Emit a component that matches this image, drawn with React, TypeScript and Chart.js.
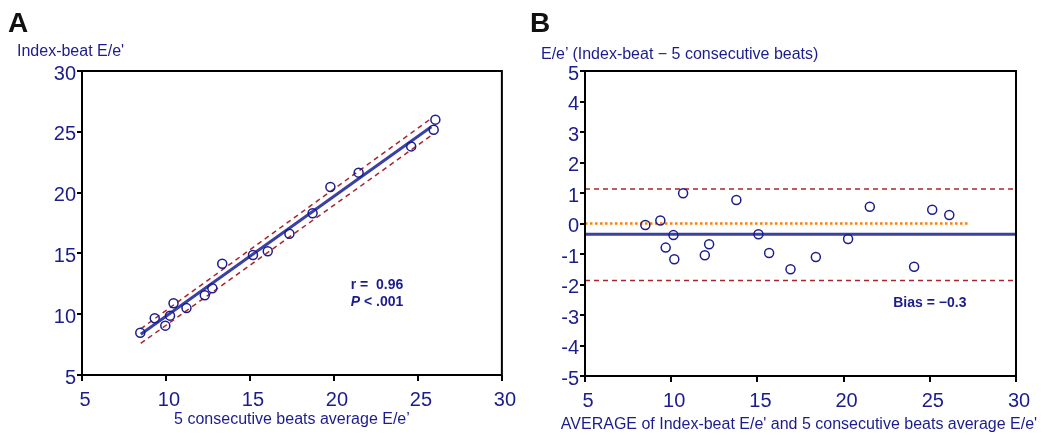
import React, { useEffect, useRef } from "react";
import { Chart, registerables } from "chart.js";

Chart.register(...registerables);

const NAVY = "#1c1c8c";
const LINE_BLUE = "#3b41a3";
const RED = "#a8262a";
const ORANGE = "#ff8000";
const FONT = "Arial, 'Liberation Sans', Helvetica, sans-serif";

// ---------- Panel A data ----------
const aX = [8.47, 9.33, 9.96, 10.24, 10.45, 11.22, 12.31, 12.76, 13.35, 15.18, 16.06, 17.35, 18.73, 19.79, 21.47, 24.6, 25.94, 26.04];
const aY = [8.48, 9.66, 9.06, 9.88, 10.9, 10.5, 11.55, 12.13, 14.15, 14.87, 15.17, 16.62, 18.3, 20.46, 21.64, 23.8, 25.17, 26.0];
const regX = [8.5, 25.8];
const regY = [8.35, 25.42];
const bandUpperY = [8.8, 26.1];
const bandLowerY = [7.6, 24.7];
const aTicks = [5, 10, 15, 20, 25, 30];

// ---------- Panel B data ----------
const bX = [8.5, 9.37, 10.13, 9.68, 10.18, 10.69, 11.95, 12.2, 13.78, 15.06, 15.68, 16.92, 18.39, 20.26, 21.52, 24.09, 25.14, 26.13];
const bY = [-0.05, 0.1, -0.38, -0.79, -1.17, 0.99, -1.04, -0.68, 0.77, -0.35, -0.97, -1.5, -1.1, -0.51, 0.55, -1.42, 0.45, 0.28];
const bLineX = [5, 30];
const biasValue = -0.35;
const upperLoa = 1.13;
const lowerLoa = -1.87;
const zeroLineX = [5, 27.2];
const bXTicks = [5, 10, 15, 20, 25, 30];
const bYTicks = [-5, -4, -3, -2, -1, 0, 1, 2, 3, 4, 5];

const pts = (xs: number[], ys: number[]) => xs.map((x, i) => ({ x, y: ys[i] }));

const boxPlugin = {
  id: "boxPlugin",
  afterDatasetsDraw(chart: any) {
    const { ctx, chartArea } = chart;
    ctx.save();
    ctx.strokeStyle = "#000";
    ctx.lineWidth = 2;
    ctx.strokeRect(chartArea.left, chartArea.top, chartArea.right - chartArea.left, chartArea.bottom - chartArea.top);
    ctx.restore();
  },
};

function makeTextPlugin(items: { x: number; y: number; parts: { t: string; italic?: boolean }[] }[]) {
  return {
    id: "textPlugin",
    afterDraw(chart: any) {
      const { ctx, scales } = chart;
      ctx.save();
      ctx.fillStyle = NAVY;
      ctx.textBaseline = "middle";
      ctx.textAlign = "left";
      for (const it of items) {
        let px = scales.x.getPixelForValue(it.x);
        const py = scales.y.getPixelForValue(it.y);
        for (const p of it.parts) {
          ctx.font = `${p.italic ? "italic " : ""}bold 14px ${FONT}`;
          ctx.fillText(p.t, px, py);
          px += ctx.measureText(p.t).width;
        }
      }
      ctx.restore();
    },
  };
}

function axis(min: number, max: number, step: number, size: number, isX: boolean, title?: string) {
  return {
    type: "linear",
    min,
    max,
    ticks: {
      stepSize: step,
      color: NAVY,
      font: { family: FONT, size: 20 },
      padding: isX ? 7 : 1,
      labelOffset: 3,
      autoSkip: false,
      maxRotation: 0,
    },
    grid: {
      drawOnChartArea: false,
      drawTicks: true,
      tickLength: isX ? 6 : 5,
      color: "#000",
      tickColor: "#000",
      tickWidth: 2,
      lineWidth: 2,
    },
    border: { display: false },
    title: title
      ? {
          display: true,
          text: title,
          color: NAVY,
          font: { family: FONT, size: 16 },
          padding: { top: 0, bottom: 6 },
        }
      : { display: false },
    afterFit: (s: any) => {
      if (isX) s.height = size;
      else s.width = size;
    },
  };
}

function PanelA() {
  const ref = useRef<HTMLCanvasElement>(null);
  useEffect(() => {
    const chart = new Chart(ref.current as HTMLCanvasElement, {
      type: "scatter",
      data: {
        datasets: [
          {
            type: "line",
            data: pts(regX, bandUpperY),
            borderColor: RED,
            borderWidth: 1.5,
            borderDash: [5, 4],
            pointRadius: 0,
            order: 2,
          },
          {
            type: "line",
            data: pts(regX, bandLowerY),
            borderColor: RED,
            borderWidth: 1.5,
            borderDash: [5, 4],
            pointRadius: 0,
            order: 2,
          },
          {
            type: "line",
            data: pts(regX, regY),
            borderColor: LINE_BLUE,
            borderWidth: 3,
            pointRadius: 0,
            order: 1,
          },
          {
            type: "scatter",
            data: pts(aX, aY),
            pointRadius: 4.5,
            pointBorderWidth: 1.5,
            borderColor: NAVY,
            backgroundColor: "rgba(255,255,255,0)",
            order: 0,
          },
        ],
      } as any,
      options: {
        animation: false,
        responsive: false,
        layout: { padding: { top: 71, right: 13, left: 0, bottom: 0 } },
        plugins: { legend: { display: false }, tooltip: { enabled: false } },
        scales: {
          x: {
            ...axis(5, 30, 5, 60, true, "5 consecutive beats average E/e\u2019"),
            afterBuildTicks: (s: any) => {
              s.ticks = aTicks.map((v) => ({ value: v }));
            },
          },
          y: {
            ...axis(5, 30, 5, 82, false),
            afterBuildTicks: (s: any) => {
              s.ticks = aTicks.map((v) => ({ value: v }));
            },
          },
        } as any,
      },
      plugins: [
        boxPlugin,
        makeTextPlugin([
          { x: 21.0, y: 12.4, parts: [{ t: "r =  0.96" }] },
          { x: 21.0, y: 11.0, parts: [{ t: "P", italic: true }, { t: " < .001" }] },
        ]),
      ],
    } as any);
    return () => chart.destroy();
  }, []);
  return (
    <canvas
      ref={ref}
      width={520}
      height={435}
      style={{ position: "absolute", left: 0, top: 0, width: 520, height: 435 }}
    />
  );
}

function PanelB() {
  const ref = useRef<HTMLCanvasElement>(null);
  useEffect(() => {
    const hline = (xs: number[], v: number) => xs.map((x) => ({ x, y: v }));
    const chart = new Chart(ref.current as HTMLCanvasElement, {
      type: "scatter",
      data: {
        datasets: [
          {
            type: "line",
            data: hline(bLineX, upperLoa),
            borderColor: RED,
            borderWidth: 1.5,
            borderDash: [5, 4],
            pointRadius: 0,
            order: 2,
          },
          {
            type: "line",
            data: hline(bLineX, lowerLoa),
            borderColor: RED,
            borderWidth: 1.5,
            borderDash: [5, 4],
            pointRadius: 0,
            order: 2,
          },
          {
            type: "line",
            data: hline(zeroLineX, 0),
            borderColor: ORANGE,
            borderWidth: 2.5,
            borderDash: [2.5, 2.5],
            pointRadius: 0,
            order: 2,
          },
          {
            type: "line",
            data: hline(bLineX, biasValue),
            borderColor: LINE_BLUE,
            borderWidth: 3,
            pointRadius: 0,
            order: 1,
          },
          {
            type: "scatter",
            data: pts(bX, bY),
            pointRadius: 4.5,
            pointBorderWidth: 1.5,
            borderColor: NAVY,
            backgroundColor: "rgba(255,255,255,0)",
            order: 0,
          },
        ],
      } as any,
      options: {
        animation: false,
        responsive: false,
        layout: { padding: { top: 71, right: 29, left: 0, bottom: 0 } },
        plugins: { legend: { display: false }, tooltip: { enabled: false } },
        scales: {
          x: {
            ...axis(5, 30, 5, 59, true),
            afterBuildTicks: (s: any) => {
              s.ticks = bXTicks.map((v) => ({ value: v }));
            },
          },
          y: {
            ...axis(-5, 5, 1, 65, false),
            afterBuildTicks: (s: any) => {
              s.ticks = bYTicks.map((v) => ({ value: v }));
            },
          },
        } as any,
      },
      plugins: [
        boxPlugin,
        makeTextPlugin([{ x: 22.88, y: -2.6, parts: [{ t: "Bias = \u22120.3" }] }]),
      ],
    } as any);
    return () => chart.destroy();
  }, []);
  return (
    <canvas
      ref={ref}
      width={525}
      height={435}
      style={{ position: "absolute", left: 520, top: 0, width: 525, height: 435 }}
    />
  );
}

export default function App() {
  const label: React.CSSProperties = {
    position: "absolute",
    fontFamily: FONT,
    lineHeight: 1,
    whiteSpace: "nowrap",
  };
  return (
    <div
      style={{
        position: "fixed",
        left: 0,
        top: 0,
        width: 1045,
        height: 435,
        background: "#fff",
        overflow: "hidden",
      }}
    >
      <PanelA />
      <PanelB />
      <div style={{ ...label, left: 8, top: 9, fontSize: 28, fontWeight: "bold", color: "#111" }}>A</div>
      <div style={{ ...label, left: 530, top: 9, fontSize: 28, fontWeight: "bold", color: "#111" }}>B</div>
      <div style={{ ...label, left: 17, top: 43, fontSize: 16, color: NAVY }}>Index-beat E/e'</div>
      <div style={{ ...label, left: 541, top: 46, fontSize: 16, color: NAVY }}>
        E/e’ (Index-beat − 5 consecutive beats)
      </div>
      <div
        style={{
          ...label,
          left: 799,
          top: 416,
          fontSize: 16,
          color: NAVY,
          transform: "translateX(-50%)",
        }}
      >
        AVERAGE of Index-beat E/e' and 5 consecutive beats average E/e'
      </div>
    </div>
  );
}
